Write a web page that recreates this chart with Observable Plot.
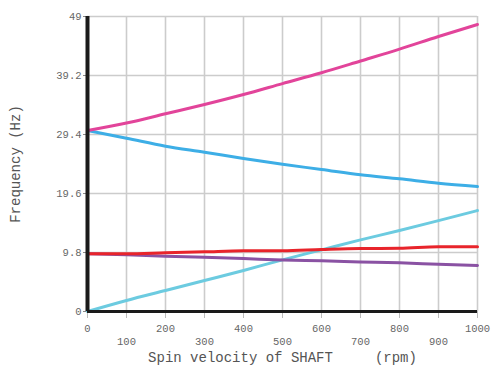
<!DOCTYPE html>
<html>
<head>
<meta charset="utf-8">
<script src="https://cdn.jsdelivr.net/npm/d3@7"></script>
<script src="https://cdn.jsdelivr.net/npm/@observablehq/plot@0.6"></script>
<style>
  html, body { margin: 0; padding: 0; background: #fff; }
</style>
</head>
<body>
<div id="chart"></div>
<script>
const rpm = [0, 100, 200, 300, 400, 500, 600, 700, 800, 900, 1000];
const modeA = [30.07, 31.3, 32.84, 34.38, 36.04, 37.85, 39.65, 41.6, 43.57, 45.68, 47.67];
const modeB = [30.07, 28.79, 27.46, 26.46, 25.41, 24.45, 23.59, 22.7, 22.04, 21.31, 20.76];
const modeC = [0, 1.83, 3.49, 5.15, 6.81, 8.58, 10.24, 11.9, 13.45, 15.1, 16.77];
const modeD = [9.58, 9.58, 9.75, 9.91, 10.08, 10.1, 10.3, 10.46, 10.5, 10.74, 10.74];
const modeE = [9.58, 9.42, 9.19, 9.02, 8.8, 8.55, 8.41, 8.24, 8.08, 7.85, 7.64];

const seriesNames = ["Mode C", "Mode E", "Mode B", "Mode A", "Mode D"];
const seriesValues = [modeC, modeE, modeB, modeA, modeD];
const seriesColors = ["#6ccbe0", "#8a52a3", "#3daee6", "#e2449a", "#e8242b"];

const yTicks = [0, 9.8, 19.6, 29.4, 39.2, 49];
const yTickLabels = ["0", "9.8", "19.6", "29.4", "39.2", "49"];
const xTicksEven = [0, 200, 400, 600, 800, 1000];
const xTicksOdd = [100, 300, 500, 700, 900];
const xTitle = "Spin velocity of SHAFT\u00a0\u00a0\u00a0\u00a0\u00a0(rpm)";
const yTitle = "Frequency (Hz)";

const rows = [];
seriesNames.forEach((name, i) => {
  rpm.forEach((r, j) => rows.push({series: name, rpm: r, freq: seriesValues[i][j]}));
});

const font = "'Courier New', 'Liberation Mono', 'DejaVu Sans Mono', monospace";

const chart = Plot.plot({
  width: 504,
  height: 367,
  marginLeft: 87,
  marginRight: 27,
  marginTop: 16,
  marginBottom: 56,
  style: {fontFamily: font, fontSize: "10.5px", color: "#666", background: "#fff"},
  x: {domain: [0, 1000]},
  y: {domain: [0, 49]},
  color: {domain: seriesNames, range: seriesColors},
  marks: [
    Plot.gridX([...xTicksEven, ...xTicksOdd], {stroke: "#cccccc", strokeOpacity: 1, strokeWidth: 1.6}),
    Plot.gridY(yTicks, {stroke: "#cccccc", strokeOpacity: 1, strokeWidth: 1.6}),
    Plot.axisX([...xTicksEven, ...xTicksOdd], {tickSize: 7, tickFormat: () => "", stroke: "#bbb", label: null}),
    Plot.axisX(xTicksEven, {tickSize: 0, tickPadding: 13, tickFormat: d => String(d), label: null, fill: "#666"}),
    Plot.axisX(xTicksOdd, {tickSize: 0, tickPadding: 26, tickFormat: d => String(d), label: null, fill: "#666"}),
    Plot.axisY(yTicks, {tickSize: 4, tickPadding: 2, stroke: "#888", tickFormat: d => yTickLabels[yTicks.indexOf(d)], label: null, fill: "#666"}),
    Plot.line(rows, {x: "rpm", y: "freq", z: "series", stroke: "series", strokeWidth: 3, curve: "monotone-x"}),
    Plot.ruleY([0], {stroke: "#1a1a1a", strokeWidth: 3}),
    Plot.ruleX([0], {stroke: "#1a1a1a", strokeWidth: 4}),
    Plot.text([xTitle], {frameAnchor: "bottom", textAnchor: "middle", lineAnchor: "middle", dy: 46, text: d => d, fontSize: 14, fill: "#555"}),
    Plot.text([yTitle], {frameAnchor: "left", textAnchor: "middle", lineAnchor: "middle", dx: -72, rotate: -90, text: d => d, fontSize: 14, fill: "#555"})
  ]
});
document.getElementById("chart").appendChild(chart);
</script>
</body>
</html>
